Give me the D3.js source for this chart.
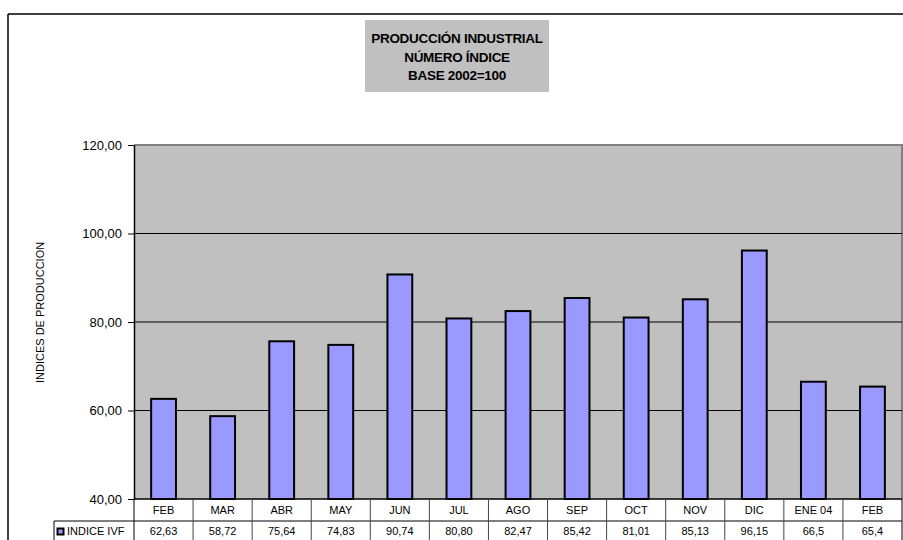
<!DOCTYPE html>
<html lang="en">
<head>
	<meta charset="utf-8">
	<title>Producción industrial</title>
	<script src="https://d3js.org/d3.v7.min.js"></script>
	<style>
	body { margin: 0; background: #fff; }
	text { font-family: "Liberation Sans", Arial, sans-serif; }
	</style>
</head>
<body>
	<script>
	// Data
	var months = ["FEB", "MAR", "ABR", "MAY", "JUN", "JUL", "AGO", "SEP", "OCT", "NOV", "DIC", "ENE 04", "FEB"];
	var ivfValues = [62.63, 58.72, 75.64, 74.83, 90.74, 80.80, 82.47, 85.42, 81.01, 85.13, 96.15, 66.5, 65.4];
	var ivfLabels = ["62,63", "58,72", "75,64", "74,83", "90,74", "80,80", "82,47", "85,42", "81,01", "85,13", "96,15", "66,5", "65,4"];
	var yTicks = [40, 60, 80, 100, 120];
	var titleLines = ["PRODUCCIÓN INDUSTRIAL", "NÚMERO ÍNDICE", "BASE 2002=100"];
	var seriesName = "INDICE IVF";

	var w = 903, h = 540;
	var plot = { left: 134, right: 902, top: 145, bottom: 499 };

	var svg = d3.select("body").append("svg")
		.attr("width", w)
		.attr("height", h);

	// chart frame (top + left edges only visible)
	svg.append("line")
		.attr("x1", 8).attr("y1", 14).attr("x2", w).attr("y2", 14)
		.attr("stroke", "#000").attr("stroke-width", 1.5);
	svg.append("line")
		.attr("x1", 8).attr("y1", 14).attr("x2", 8).attr("y2", h)
		.attr("stroke", "#000").attr("stroke-width", 1.5);

	// title box
	svg.append("rect")
		.attr("x", 365).attr("y", 20)
		.attr("width", 184).attr("height", 72)
		.attr("fill", "#c0c0c0");
	svg.selectAll(".title")
		.data(titleLines)
		.enter()
		.append("text")
		.attr("class", "title")
		.attr("x", 457)
		.attr("y", function(d, i) { return 43 + i * 18.5; })
		.attr("text-anchor", "middle")
		.attr("font-size", "13.5px")
		.attr("font-weight", "bold")
		.attr("letter-spacing", "-0.3px")
		.text(function(d) { return d; });

	// scales
	var x = d3.scaleBand()
		.domain(d3.range(months.length))
		.range([plot.left, plot.right])
		.paddingInner(0.58)
		.paddingOuter(0.29);

	var xCell = d3.scaleBand()
		.domain(d3.range(months.length))
		.range([plot.left, plot.right]);

	var y = d3.scaleLinear()
		.domain([40, 120])
		.range([plot.bottom, plot.top]);

	// plot area
	svg.append("rect")
		.attr("x", plot.left).attr("y", plot.top)
		.attr("width", plot.right - plot.left)
		.attr("height", plot.bottom - plot.top)
		.attr("fill", "#c0c0c0");
	svg.append("path")
		.attr("d", "M" + plot.left + "," + plot.top + "H" + plot.right + "V" + plot.bottom)
		.attr("fill", "none")
		.attr("stroke", "#808080")
		.attr("stroke-width", 2);

	// gridlines
	svg.selectAll(".grid")
		.data(yTicks.filter(function(d) { return d > 40 && d < 120; }))
		.enter()
		.append("line")
		.attr("class", "grid")
		.attr("x1", plot.left).attr("x2", plot.right)
		.attr("y1", function(d) { return y(d); })
		.attr("y2", function(d) { return y(d); })
		.attr("stroke", "#000")
		.attr("stroke-width", 1);

	// bars
	svg.selectAll(".bar")
		.data(ivfValues)
		.enter()
		.append("rect")
		.attr("class", "bar")
		.attr("x", function(d, i) { return x(i); })
		.attr("y", function(d) { return y(d); })
		.attr("width", x.bandwidth())
		.attr("height", function(d) { return plot.bottom - y(d); })
		.attr("fill", "#9999ff")
		.attr("stroke", "#000")
		.attr("stroke-width", 2);

	// x axis baseline
	svg.append("line")
		.attr("x1", plot.left).attr("x2", plot.right)
		.attr("y1", y(40)).attr("y2", y(40))
		.attr("stroke", "#000")
		.attr("stroke-width", 1.5);

	// y axis
	var yAxis = d3.axisLeft(y)
		.tickValues(yTicks)
		.tickSize(6)
		.tickSizeOuter(0)
		.tickPadding(6)
		.tickFormat(function(d) { return d3.format(".2f")(d).replace(".", ","); });
	var gy = svg.append("g")
		.attr("transform", "translate(" + plot.left + ",0)")
		.call(yAxis);
	gy.select(".domain").attr("stroke", "#000").attr("stroke-width", 1.5);
	gy.selectAll(".tick line").attr("stroke", "#000");
	gy.selectAll(".tick text")
		.attr("font-family", "'Liberation Sans', Arial, sans-serif")
		.attr("font-size", "13px")
		.attr("fill", "#000");

	// y label, clipped at top like the original
	svg.append("clipPath").attr("id", "ylabclip")
		.append("rect").attr("x", 20).attr("y", 241).attr("width", 40).attr("height", 200);
	svg.append("g")
		.attr("clip-path", "url(#ylabclip)")
		.append("text")
		.attr("transform", "translate(44, 383) rotate(-90)")
		.attr("font-size", "11px")
		.attr("fill", "#000")
		.text("INDICES DE PRODUCCION");

	// data table
	var row1Top = plot.bottom, row2Top = 521, row2Bottom = 542;
	var table = svg.append("g");

	table.append("line")
		.attr("x1", 54).attr("x2", plot.right)
		.attr("y1", row2Top).attr("y2", row2Top)
		.attr("stroke", "#000");
	table.append("line")
		.attr("x1", plot.right).attr("x2", plot.right)
		.attr("y1", row1Top).attr("y2", row2Bottom)
		.attr("stroke", "#000");
	table.append("line")
		.attr("x1", 54).attr("x2", 54)
		.attr("y1", row2Top).attr("y2", row2Bottom)
		.attr("stroke", "#000");

	table.selectAll(".vline")
		.data(d3.range(months.length))
		.enter()
		.append("line")
		.attr("class", "vline")
		.attr("x1", function(i) { return xCell(i); })
		.attr("x2", function(i) { return xCell(i); })
		.attr("y1", row1Top).attr("y2", row2Bottom)
		.attr("stroke", function(i) { return i === 0 ? "#000" : "#444"; });

	table.selectAll(".month")
		.data(months)
		.enter()
		.append("text")
		.attr("class", "month")
		.attr("x", function(d, i) { return xCell(i) + xCell.bandwidth() / 2; })
		.attr("y", 514)
		.attr("text-anchor", "middle")
		.attr("font-size", "11px")
		.text(function(d) { return d; });

	table.selectAll(".val")
		.data(ivfLabels)
		.enter()
		.append("text")
		.attr("class", "val")
		.attr("x", function(d, i) { return xCell(i) + xCell.bandwidth() / 2; })
		.attr("y", 535)
		.attr("text-anchor", "middle")
		.attr("font-size", "11px")
		.text(function(d) { return d; });

	// legend key in table
	table.append("rect")
		.attr("x", 57.5).attr("y", 528.5)
		.attr("width", 6).attr("height", 6)
		.attr("fill", "#9999ff")
		.attr("stroke", "#000")
		.attr("stroke-width", 2);
	table.append("text")
		.attr("x", 67).attr("y", 535)
		.attr("font-size", "11px")
		.text(seriesName);
	</script>
</body>
</html>
